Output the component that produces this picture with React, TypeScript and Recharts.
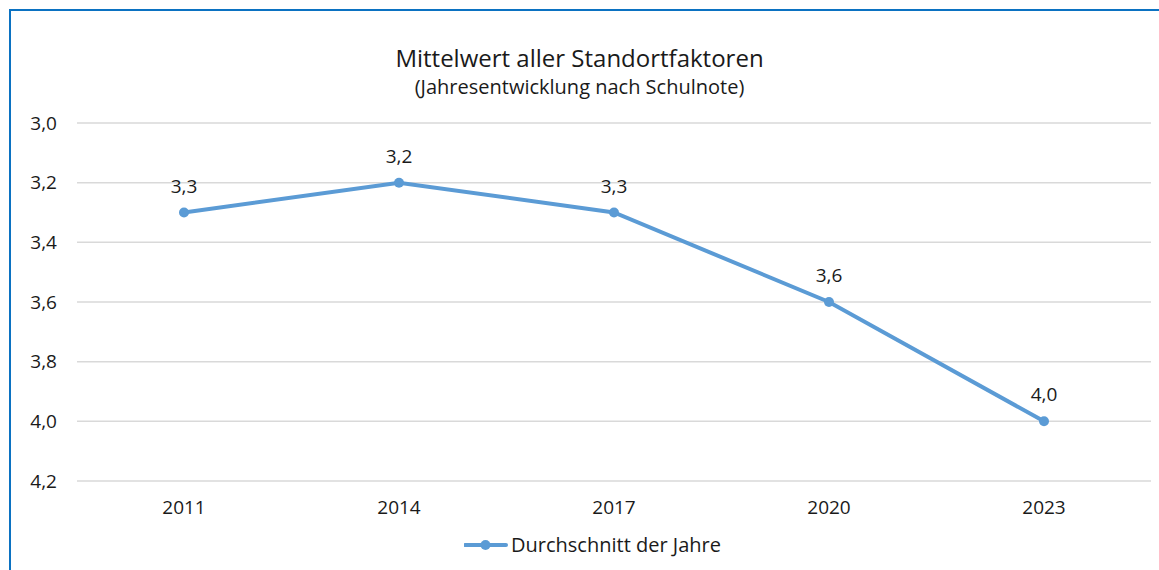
import React from 'react';
import { LineChart, Line, XAxis, YAxis, CartesianGrid, LabelList } from 'recharts';

const years = ['2011', '2014', '2017', '2020', '2023'];
const averages = [3.3, 3.2, 3.3, 3.6, 4.0];
const yTicks = [3.0, 3.2, 3.4, 3.6, 3.8, 4.0, 4.2];

const data = years.map((year, i) => ({ year, value: averages[i] }));

const FONT = '"Open Sans", sans-serif';
const TEXT = '#1a1a1a';
const BLUE = '#5b9bd5';

const fmt = (v: any) => Number(v).toFixed(1).replace('.', ',');

export default function App() {
  return (
    <div style={{ position: 'absolute', left: 0, top: 0, width: 1159, height: 570, background: '#fff', overflow: 'hidden' }}>
      <div style={{ position: 'absolute', left: 9, top: 9, width: 1160, height: 570, borderTop: '2px solid #0b72c2', borderLeft: '2px solid #0b72c2' }} />
      <div style={{ position: 'absolute', left: 0, top: 43, width: 1159, textAlign: 'center', fontFamily: FONT, color: TEXT }}>
        <div style={{ fontSize: 24, lineHeight: '30px' }}>Mittelwert aller Standortfaktoren</div>
        <div style={{ fontSize: 20, lineHeight: '28px' }}>(Jahresentwicklung nach Schulnote)</div>
      </div>
      <div style={{ position: 'absolute', left: 0, top: 0 }}>
        <LineChart width={1159} height={570} data={data} margin={{ top: 123, right: 8, bottom: 49, left: 0 }}>
          <CartesianGrid vertical={false} stroke="#d9d9d9" strokeWidth={1.5} />
          <XAxis
            dataKey="year"
            axisLine={false}
            tickLine={false}
            tickSize={0}
            tickMargin={20}
            height={40}
            padding={{ left: 107, right: 107 }}
            tick={{ fill: TEXT, fontSize: 19, fontFamily: FONT }}
          />
          <YAxis
            reversed
            domain={[3.0, 4.2]}
            ticks={yTicks}
            interval={0}
            width={77}
            axisLine={false}
            tickLine={false}
            tickSize={0}
            tickMargin={20}
            tickFormatter={fmt}
            tick={{ fill: TEXT, fontSize: 19, fontFamily: FONT }}
          />
          <Line
            type="linear"
            dataKey="value"
            name="Durchschnitt der Jahre"
            stroke={BLUE}
            strokeWidth={4}
            dot={{ r: 5, fill: BLUE, stroke: BLUE, strokeWidth: 0 }}
            isAnimationActive={false}
          >
            <LabelList dataKey="value" position="top" offset={20} formatter={fmt} fill={TEXT} fontSize={19} fontFamily={FONT} />
          </Line>
        </LineChart>
      </div>
      <div style={{ position: 'absolute', left: 13, top: 531, width: 1159, display: 'flex', justifyContent: 'center', alignItems: 'center', fontFamily: FONT, fontSize: 20, color: TEXT }}>
        <svg width={44} height={12} style={{ marginRight: 3 }}>
          <line x1={1} y1={6} x2={42} y2={6} stroke={BLUE} strokeWidth={4} strokeLinecap="round" />
          <circle cx={21.5} cy={6} r={5} fill={BLUE} />
        </svg>
        <span>Durchschnitt der Jahre</span>
      </div>
    </div>
  );
}
